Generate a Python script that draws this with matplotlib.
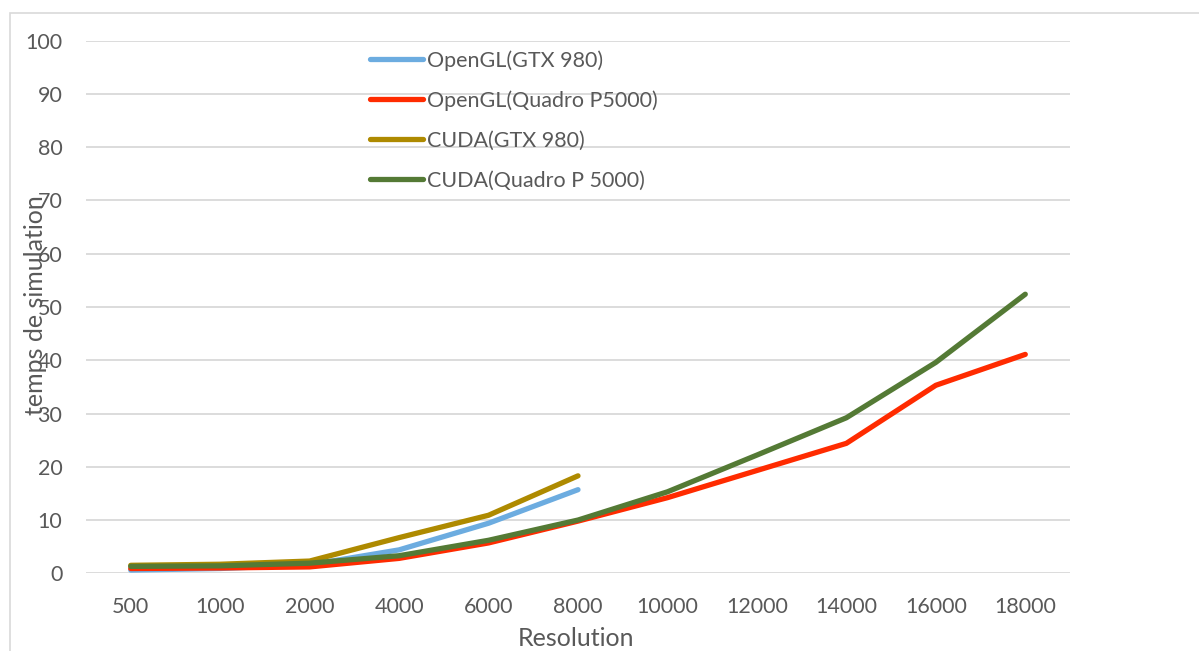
import matplotlib
matplotlib.use('Agg')
import matplotlib.pyplot as plt
from matplotlib.patches import Rectangle

# Simulation time per resolution, one series per backend/GPU
resolutions = ['500', '1000', '2000', '4000', '6000', '8000',
               '10000', '12000', '14000', '16000', '18000']
opengl_gtx980 = [0.6, 0.9, 1.6, 4.4, 9.4, 15.7]
opengl_p5000 = [0.9, 1.0, 1.2, 2.8, 5.7, 9.8, 14.2, 19.3, 24.4, 35.3, 41.1]
cuda_gtx980 = [1.5, 1.7, 2.3, 6.7, 10.9, 18.3]
cuda_p5000 = [1.3, 1.4, 1.9, 3.3, 6.2, 10.0, 15.3, 22.2, 29.2, 39.6, 52.4]

labels = ['OpenGL(GTX 980)', 'OpenGL(Quadro P5000)',
          'CUDA(GTX 980)', 'CUDA(Quadro P 5000)']
colors = ['#6CACE0', '#FF2B00', '#AE8A00', '#547A35']

plt.rcParams['font.family'] = ['Lato', 'DejaVu Sans']
text_color = '#595959'
fs = 15.5
title_fs = 18

W, H = 1199, 651
fig = plt.figure(figsize=(W / 100, H / 100), dpi=100)
ax = fig.add_axes([86 / W, 1 - 573.3 / H, (1070 - 86) / W, (573.3 - 40.7) / H])

series = [opengl_gtx980, opengl_p5000, cuda_gtx980, cuda_p5000]
for vals, lab, col in zip(series, labels, colors):
    ax.plot(range(len(vals)), vals, color=col, lw=3.8, label=lab,
            solid_capstyle='round', solid_joinstyle='round')

ax.set_xlim(-0.5, len(resolutions) - 0.5)
ax.set_ylim(0, 100)
ax.set_xticks(range(len(resolutions)))
ax.set_xticklabels(resolutions)
ax.set_yticks(range(0, 101, 10))
ax.tick_params(length=0, labelsize=fs, labelcolor=text_color)
ax.tick_params(axis='x', pad=17)
ax.tick_params(axis='y', pad=17)
ax.grid(axis='y', color='#D9D9D9', lw=1.3)
ax.set_axisbelow(True)
for s in ax.spines.values():
    s.set_visible(False)

fig.text(576 / W, 1 - 638 / H, 'Resolution', ha='center', va='center',
         fontsize=title_fs, color=text_color)
fig.text(36 / W, 1 - 305 / H, 'temps de simulation', ha='center', va='center',
         rotation=90, fontsize=title_fs, color=text_color)

leg = ax.legend(loc='upper left', bbox_to_anchor=(370 / W, 1 - 50 / H),
                bbox_transform=fig.transFigure, frameon=False, fontsize=fs,
                handlelength=2.45, handletextpad=0.2, labelspacing=0.92,
                borderpad=0, borderaxespad=0)
for t in leg.get_texts():
    t.set_color(text_color)

# light frame round the chart area
fig.patches.append(Rectangle((9.5 / W, -0.1), 1.2, 1 - 12.5 / H + 0.1,
                             transform=fig.transFigure, fill=False,
                             edgecolor='#D9D9D9', lw=1.2))

fig.savefig('out.png', dpi=100)
